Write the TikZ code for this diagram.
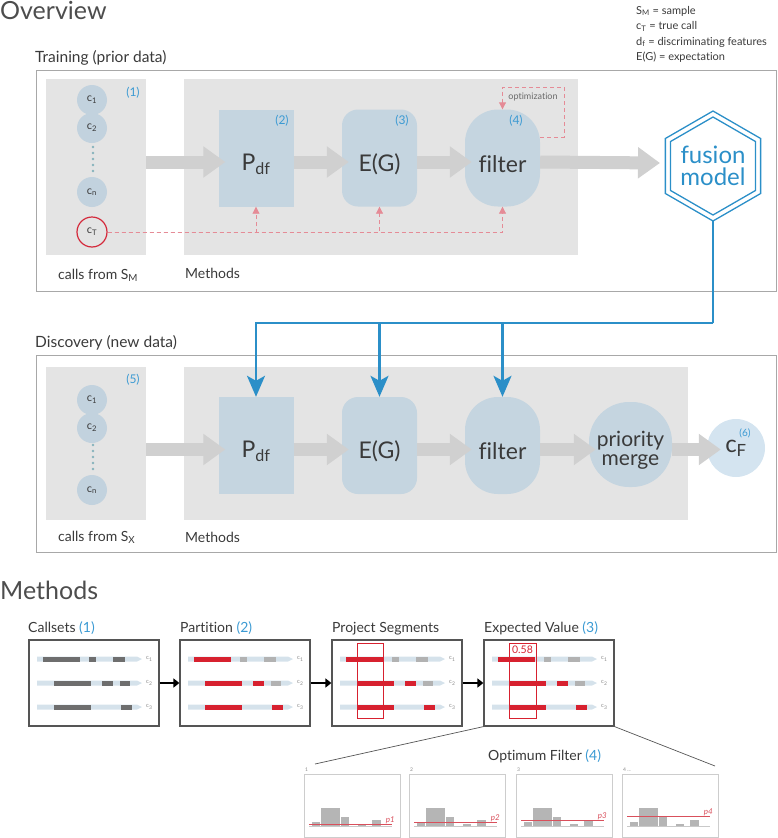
\documentclass[tikz,border=0pt]{standalone}
\usepackage{fontspec}
\setmainfont{Lato}[Ligatures=NoCommon]
\usetikzlibrary{arrows.meta,calc}

\definecolor{ink}{HTML}{3A3A3A}
\definecolor{headgrey}{HTML}{4D4D4D}
\definecolor{panelgrey}{HTML}{E4E4E4}
\definecolor{boxblue}{HTML}{C5D5E0}
\definecolor{callblue}{HTML}{C2D2DE}
\definecolor{finalblue}{HTML}{D4E4F0}
\definecolor{numblue}{HTML}{3B9AD3}
\definecolor{fuseblue}{HTML}{2B8FC8}
\definecolor{truthred}{HTML}{E58B96}
\definecolor{callred}{HTML}{D42A3C}
\definecolor{segred}{HTML}{D7212F}
\definecolor{darkseg}{HTML}{6E6E6E}
\definecolor{lightseg}{HTML}{B2B2B2}
\definecolor{trackblue}{HTML}{D5E2EB}
\definecolor{flowgrey}{HTML}{D0D0D0}
\definecolor{framegrey}{HTML}{A8A8A8}
\definecolor{cardgrey}{HTML}{555555}
\definecolor{dotteal}{HTML}{86B3BC}
\definecolor{tinygrey}{HTML}{8A8A8A}
\definecolor{histframe}{HTML}{CDCDCD}
\definecolor{bargrey}{HTML}{B5B5B5}
\definecolor{basegrey}{HTML}{C9C9C9}
\definecolor{threshred}{HTML}{D9505C}
\definecolor{optgrey}{HTML}{6A6A6A}

\newcommand\fs[1]{\fontsize{#1}{#1}\selectfont}
\newcommand\low[1]{\raisebox{-6pt}[\height][\depth]{#1}}

\begin{document}
\begin{tikzpicture}[x=1pt, y=-1pt, text=ink,
  frame/.style={draw=framegrey, line width=1pt},
  panel/.style={fill=panelgrey, inner sep=0pt},
  stage/.style={fill=boxblue, inner sep=0pt, minimum width=75pt, minimum height=97pt, font=\fs{23}},
  call/.style={circle, fill=callblue, inner sep=0pt, minimum size=30pt, font=\fs{11}},
  num/.style={text=numblue, font=\fs{12}, inner sep=0pt},
  txt/.style={inner sep=0pt, anchor=base west},
  flow/.style={draw=flowgrey, line width=13pt, -{Triangle[length=22pt,width=30pt]}, shorten >=-7pt},
  truth/.style={draw=truthred, line width=0.9pt, dash pattern=on 4pt off 3pt, -{Triangle[length=7pt,width=7pt]}},
  feed/.style={draw=fuseblue, line width=2.2pt, -{Stealth[length=21pt,width=18pt,inset=5pt]}},
  card/.style={draw=cardgrey, line width=1.2pt, minimum width=130pt, minimum height=86pt, inner sep=0pt},
  pass/.style={line width=2.5pt, -{Triangle[length=6pt,width=9pt]}},
  histbox/.style={draw=histframe, line width=1pt, minimum width=96pt, minimum height=63pt, inner sep=0pt},
]
\useasboundingbox (0,0) rectangle (778,838);

\node[txt, font=\fs{25}, text=headgrey] (overview) at (0,19) {Overview};
\foreach \t [count=\i] in {S\textsubscript{M} = sample, c\textsubscript{T} = true call, d\textsubscript{f} = discriminating features, E(G) = expectation}
  \node[txt, font=\fs{11}] (leg\i) at (636,{-1.5+15.5*\i}) {\t};

% training
\node[txt, font=\fs{15.5}] (training) at (35,62) {Training (prior data)};
\draw[frame] (36,70) rectangle (776.5,291);
\node[panel, minimum width=100pt, minimum height=176pt] (callsA) at (96,167) {};
\node[panel, minimum width=394pt, minimum height=176pt] (methA) at (381,167) {};
\node[txt, font=\fs{14}] at (58,279) {calls from S\textsubscript{M}};
\node[txt, font=\fs{14}] at (185,278) {Methods};

\node[call] (c1A) at (92,100) {c\textsubscript{1}};
\node[call] (c2A) at (92,128) {c\textsubscript{2}};
\node[call] (cnA) at (92,192) {c\textsubscript{n}};
\node[call, fill=none, draw=callred, line width=1.2pt] (ct) at (92,232) {c\textsubscript{T}};
\foreach \y in {147,153,...,171} \fill[dotteal] (93,\y) circle (1.4pt);
\node[num] at (133,93) {(1)};

\node[stage] (pdfA) at (256,158) {\low{P\textsubscript{df}}};
\node[stage, rounded corners=16pt] (egA) at (379.5,158) {\low{E(G)}};
\node[stage, rounded corners=33pt] (filtA) at (502.5,158) {\low{filter}};
\node[num] at (282,121) {(2)};
\node[num] at (402,121) {(3)};
\node[num] at (516,121) {(4)};

\draw[flow] ($(callsA.east |- pdfA.west)+(0,4)$) -- ($(pdfA.west)+(0,4)$);
\draw[flow] ($(pdfA.east)+(0,4)$) -- ($(egA.west)+(0,4)$);
\draw[flow] ($(egA.east)+(0,4)$) -- ($(filtA.west)+(0,4)$);
\coordinate (fusein) at (660,163);
\draw[flow, shorten >=0pt] ($(filtA.east)+(0,4)$) -- (fusein);

\draw[truth] (ct) -| (pdfA);
\draw[truth] (ct) -| (egA);
\draw[truth] (ct) -| (filtA);
\coordinate (optc) at (564,87);
\draw[truth] ($(filtA.east)+(0,-21)$) -| (optc) -| (filtA.north);
\node[font=\fs{9}, text=optgrey, inner sep=0pt] at (533,97) {optimization};

\node[font=\fontsize{24}{22}\selectfont, text=fuseblue, align=center, inner sep=0pt] (fusion) at (713,166) {fusion\\model};
\foreach \r in {55,49}
  \draw[fuseblue, line width=1.3pt] ($(fusion)+(90:\r)$) -- ($(fusion)+(150:\r)$) -- ($(fusion)+(210:\r)$)
    -- ($(fusion)+(270:\r)$) -- ($(fusion)+(330:\r)$) -- ($(fusion)+(30:\r)$) -- cycle;

% discovery
\node[txt, font=\fs{15.5}] (discovery) at (35,347) {Discovery (new data)};
\draw[frame] (36,355) rectangle (776.5,552);
\node[panel, minimum width=100pt, minimum height=153pt] (callsB) at (96,443.5) {};
\node[panel, minimum width=504pt, minimum height=153pt] (methB) at (436,443.5) {};
\node[txt, font=\fs{14}] at (58,541) {calls from S\textsubscript{X}};
\node[txt, font=\fs{14}] at (185,542) {Methods};

\node[call] (c1B) at (92,400) {c\textsubscript{1}};
\node[call] (c2B) at (92,428) {c\textsubscript{2}};
\node[call] (cnB) at (92,490) {c\textsubscript{n}};
\foreach \y in {445,451,...,469} \fill[dotteal] (93,\y) circle (1.4pt);
\node[num] at (133,380) {(5)};

\node[stage] (pdfB) at (256,445.5) {\low{P\textsubscript{df}}};
\node[stage, rounded corners=16pt] (egB) at (379.5,445.5) {\low{E(G)}};
\node[stage, rounded corners=33pt] (filtB) at (502.5,445.5) {\low{filter}};
\node[stage, minimum width=83pt, minimum height=85pt, rounded corners=40pt, align=center,
  font=\fontsize{21}{19}\selectfont] (merge) at (630.5,444.5) {\low{priority}\\\low{merge}};
\node[circle, fill=finalblue, minimum size=58pt, inner sep=0pt, font=\fs{24}] (cf) at (736,448) {c\textsubscript{F}};
\node[num, font=\fs{10}] at (745,433) {(6)};

\draw[flow] ($(callsB.east |- pdfB.west)+(0,4)$) -- ($(pdfB.west)+(0,4)$);
\draw[flow] ($(pdfB.east)+(0,4)$) -- ($(egB.west)+(0,4)$);
\draw[flow] ($(egB.east)+(0,4)$) -- ($(filtB.west)+(0,4)$);
\draw[flow] ($(filtB.east)+(0,4)$) -- ($(merge.west)+(0,5)$);
\draw[flow, shorten >=-14pt] ($(merge.east)+(0,5)$) -- ($(cf.west)+(0,1.5)$);

\coordinate (fusebot) at (713,221);
\coordinate (bus) at (713,323);
\draw[fuseblue, line width=2.2pt] (fusebot) -- (bus);
\draw[feed] (bus) -| (pdfB.north);
\draw[feed] (bus) -| (egB.north);
\draw[feed] (bus) -| (filtB.north);

% methods
\node[txt, font=\fs{25}, text=headgrey] (methods) at (0,599) {Methods};
\node[card] (callsets) at (94,683) {};
\node[card] (partition) at (245,683) {};
\node[card] (project) at (397,683) {};
\node[card] (expect) at (549,683) {};
\node[txt, font=\fs{14}] at (28,632) {Callsets \textcolor{numblue}{(1)}};
\node[txt, font=\fs{14}] at (180,632) {Partition \textcolor{numblue}{(2)}};
\node[txt, font=\fs{14}] at (332,632) {Project Segments};
\node[txt, font=\fs{14}] at (484,632) {Expected Value \textcolor{numblue}{(3)}};
\draw[pass] (callsets) -- (partition);
\draw[pass] (partition) -- (project);
\draw[pass] (project) -- (expect);

\foreach \L in {29,180,332,484}
  \foreach \y [count=\r] in {659,683,707} {
    \fill[trackblue] (\L+8,\y-2.5) -- (\L+108,\y-2.5) -- (\L+113,\y) -- (\L+108,\y+2.5) -- (\L+8,\y+2.5) -- cycle;
    \node[font=\fs{6}, text=tinygrey, inner sep=0pt, anchor=west] at (\L+117,\y) {c\textsubscript{\r}};
  }
\foreach \L/\a/\b in {29/darkseg/darkseg, 180/segred/lightseg, 332/segred/lightseg, 484/segred/lightseg} {
  \fill[\a] (\L+14,656.5) rectangle (\L+51,661.5);
  \fill[\b] (\L+60,656.5) rectangle (\L+67,661.5);
  \fill[\b] (\L+84,656.5) rectangle (\L+96,661.5);
  \fill[\a] (\L+25,680.5) rectangle (\L+62,685.5);
  \fill[\a] (\L+73,680.5) rectangle (\L+84,685.5);
  \fill[\b] (\L+91,680.5) rectangle (\L+101,685.5);
  \fill[\a] (\L+25,704.5) rectangle (\L+62,709.5);
  \fill[\a] (\L+92,704.5) rectangle (\L+103,709.5);
}
\draw[segred, line width=0.9pt] (357,643) rectangle (383,718);
\draw[segred, line width=0.9pt] (509,643) rectangle (536,718);
\node[font=\fs{10.5}, text=segred, inner sep=0pt] (ev) at (522.5,650) {0.58};

\coordinate (fanl) at (315,764);
\coordinate (fanr) at (715,766);
\draw[cardgrey, line width=0.7pt] (expect.south west) -- (fanl);
\draw[cardgrey, line width=0.7pt] (expect.south east) -- (fanr);
\node[txt, font=\fs{14}] at (488,760) {Optimum Filter \textcolor{numblue}{(4)}};

\foreach \L/\h/\n [count=\i] in {304/824/1, 409/822/2, 516/820/3, 622/816/{4 ...}} {
  \node[histbox] (hist\i) at (\L+48,805.5) {};
  \node[font=\fs{5}, text=tinygrey, inner sep=0pt, anchor=base west] at (\L+1,771) {\n};
  \filldraw[fill=bargrey, draw=white, line width=0.4pt] (\L+7,826) rectangle (\L+16,821);
  \filldraw[fill=bargrey, draw=white, line width=0.4pt] (\L+16,826) rectangle (\L+36,807);
  \filldraw[fill=bargrey, draw=white, line width=0.4pt] (\L+36,826) rectangle (\L+45,816);
  \fill[bargrey] (\L+54,826) rectangle (\L+62,823.5);
  \fill[bargrey] (\L+68,826) rectangle (\L+77,820);
  \draw[basegrey, line width=0.6pt] (\L+5,826.5) -- (\L+88,826.5);
  \draw[threshred, line width=0.8pt] (\L+5,\h) -- (\L+88,\h);
  \node[font=\fs{8}\itshape, text=threshred, inner sep=0pt, anchor=base east] at (\L+91,\h-2) {p\i};
}
\end{tikzpicture}
\end{document}
